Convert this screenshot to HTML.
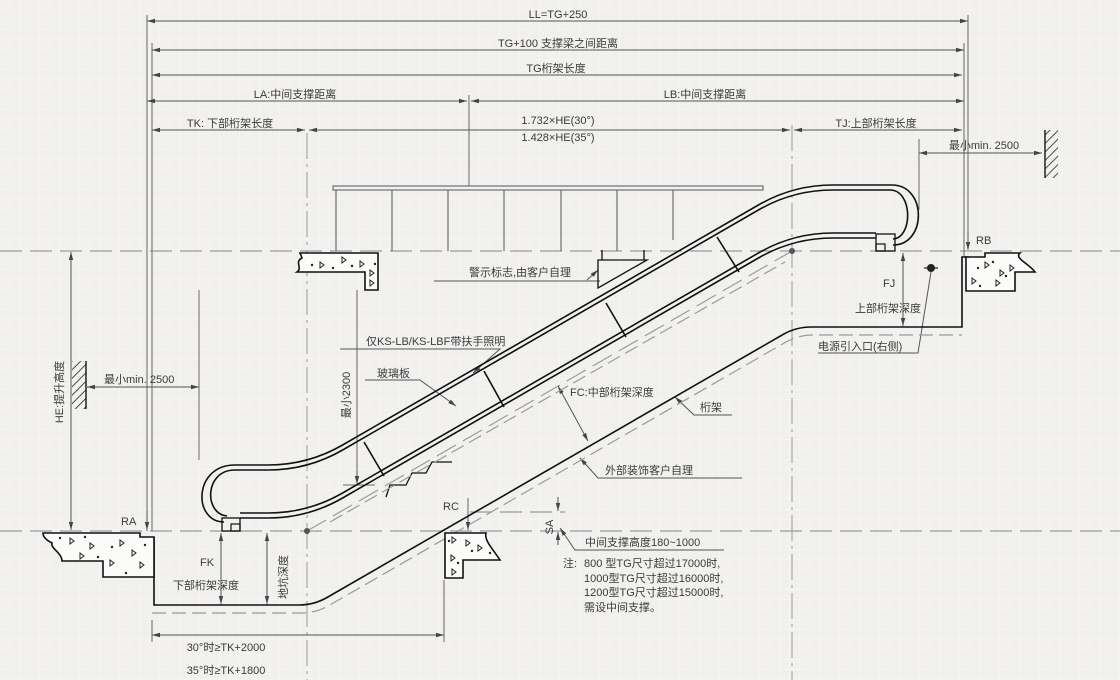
<!DOCTYPE html>
<html><head><meta charset="utf-8"><style>
html,body{margin:0;padding:0;background:#f1f0ee;}
svg{display:block;}
text{font-family:"Liberation Sans","Noto Sans CJK SC",sans-serif;font-size:11px;fill:#3a3a3a;}
</style></head><body>
<svg width="1120" height="680" viewBox="0 0 1120 680" xmlns="http://www.w3.org/2000/svg">
<defs>
<pattern id="g" width="10" height="10" patternUnits="userSpaceOnUse"><path d="M10 0V10H0" fill="none" stroke="#f7f7f6" stroke-width="1"/></pattern>
<pattern id="h" width="6" height="6" patternUnits="userSpaceOnUse" patternTransform="rotate(45)"><line x1="0" y1="0" x2="0" y2="6" stroke="#222" stroke-width="1.6"/></pattern>
<marker id="a" markerWidth="8" markerHeight="6" refX="8" refY="3" orient="auto" markerUnits="userSpaceOnUse"><path d="M0,0.8 L8,3 L0,5.2Z" fill="#444"/></marker>
<marker id="s" markerWidth="8" markerHeight="6" refX="0" refY="3" orient="auto" markerUnits="userSpaceOnUse"><path d="M8,0.8 L0,3 L8,5.2Z" fill="#444"/></marker>
</defs>
<rect width="1120" height="680" fill="url(#g)"/>

<!-- dashed reference lines -->
<g stroke="#9a9a9a" stroke-width="1.2" stroke-dasharray="22,8" fill="none">
<line x1="0" y1="251" x2="1120" y2="251"/>
<line x1="0" y1="531" x2="1120" y2="531"/>
<line x1="307" y1="531" x2="792" y2="251"/>
<line x1="470" y1="512" x2="565" y2="512"/>
</g>
<g stroke="#9a9a9a" stroke-width="1" stroke-dasharray="26,5,3,5" fill="none">
<line x1="307" y1="133" x2="307" y2="680"/>
<line x1="792" y1="125" x2="792" y2="680"/>
</g>
<circle cx="307" cy="531" r="3" fill="#555"/>
<circle cx="792" cy="251" r="3" fill="#555"/>

<!-- extension lines -->
<g stroke="#666" stroke-width="1" fill="none">
<line x1="147" y1="15" x2="147" y2="531"/>
<line x1="152" y1="43" x2="152" y2="531"/>
<line x1="968" y1="15" x2="968" y2="250"/>
<line x1="964" y1="43" x2="964" y2="257"/>
<line x1="469" y1="95" x2="469" y2="186"/>
<line x1="919" y1="139" x2="919" y2="210"/>
<line x1="199" y1="290" x2="199" y2="460"/>
<line x1="357" y1="290" x2="357" y2="485"/>
<line x1="343" y1="485" x2="375" y2="485"/>
<line x1="152" y1="620" x2="152" y2="642"/>
<line x1="444" y1="580" x2="444" y2="642"/>
<line x1="468" y1="498" x2="468" y2="512"/>
</g>

<!-- dimension lines -->
<g stroke="#555" stroke-width="1" fill="none" marker-end="url(#a)" marker-start="url(#s)">
<line x1="147" y1="21" x2="968" y2="21"/>
<line x1="152" y1="50" x2="964" y2="50"/>
<line x1="152" y1="75" x2="962" y2="75"/>
<line x1="147" y1="101" x2="467" y2="101"/>
<line x1="471" y1="101" x2="964" y2="101"/>
<line x1="152" y1="130" x2="305" y2="130"/>
<line x1="309" y1="130" x2="790" y2="130"/>
<line x1="794" y1="130" x2="962" y2="130"/>
<line x1="919" y1="153" x2="1042" y2="153"/>
<line x1="71" y1="252" x2="71" y2="530"/>
<line x1="87" y1="387" x2="199" y2="387"/>
<line x1="221" y1="533" x2="221" y2="604"/>
<line x1="267" y1="533" x2="267" y2="604"/>
<line x1="903" y1="253" x2="903" y2="326"/>
<line x1="152" y1="635" x2="444" y2="635"/>
<line x1="558" y1="386" x2="588" y2="441"/>
</g>
<g stroke="#555" stroke-width="1" fill="none" marker-end="url(#a)">
<line x1="147" y1="510" x2="147" y2="530"/>
<line x1="968" y1="232" x2="968" y2="250"/>
<line x1="468" y1="512" x2="468" y2="530"/>
<line x1="357" y1="470" x2="357" y2="484"/>
<line x1="558" y1="497" x2="558" y2="511"/>
<line x1="558" y1="545" x2="558" y2="532"/>
</g>

<!-- leaders -->
<g stroke="#555" stroke-width="1" fill="none">
<polyline points="434,281 600,281"/>
<polyline points="340,349 500,349 473,373" marker-end="url(#a)"/>
<polyline points="365,380 420,380 456,406" marker-end="url(#a)"/>
<polyline points="732,415 694,415 675,397" marker-end="url(#a)"/>
<polyline points="742,478 598,478 580,458" marker-end="url(#a)"/>
<polyline points="724,550 575,550 560,528" marker-end="url(#a)"/>
<polyline points="818,353 918,353 931,272"/>
<polyline points="587,280 598,270" marker-end="url(#a)"/>
</g>

<!-- handrail balustrade bar & posts -->
<g stroke="#555" stroke-width="1" fill="none">
<rect x="333" y="186" width="430" height="4" fill="#f1f0ee"/>
<line x1="336" y1="190" x2="336" y2="251"/>
<line x1="392" y1="190" x2="392" y2="251"/>
<line x1="448" y1="190" x2="448" y2="251"/>
<line x1="504" y1="190" x2="504" y2="251"/>
<line x1="561" y1="190" x2="561" y2="251"/>
<line x1="617" y1="190" x2="617" y2="251"/>
<line x1="673" y1="190" x2="673" y2="240"/>
</g>

<!-- escalator -->
<g stroke="#111" stroke-width="1.6" fill="none">
<path d="M224,522 C193,522 193,465 235,465 L268,465 Q308,465 342.6,445 L758.4,205 Q793,185 833,185 L892,185 C927,185 927,245 893,245"/>
<path d="M227,516 C204,514 204,470 235,470 L268,470 Q308,470 342.6,450 L758.4,210 Q793,190 833,190 L890,190 C913,190 913,238 893,239"/>
<path d="M240,513 L268,513 Q308,513 342.6,493 L758.4,253 Q793,233 833,233 L876,233"/>
<path d="M240,518 L268,518 Q308,518 342.6,498 L758.4,258 Q793,238 833,238 L876,238"/>
<rect x="222" y="518" width="18" height="13" stroke-width="1.3"/>
<rect x="231" y="524" width="9" height="7" stroke-width="1.2"/>
<rect x="876" y="234" width="19" height="17" stroke-width="1.3"/>
<rect x="876" y="244" width="9" height="7" stroke-width="1.2"/>
<line x1="364" y1="442" x2="384" y2="476"/>
<line x1="484" y1="371" x2="504" y2="407"/>
<line x1="606" y1="303" x2="626" y2="337"/>
<line x1="717" y1="237" x2="739" y2="272"/>
<path d="M154,537 L154,605 L299,605 Q314,605 327,597.5 L783,334.5 Q796,327 811,327 L962,327 L962,257 L969,257"/>
<path d="M452,462 L432,462 L426,473 L412,473 L406,485 L390,485 L386,497" stroke-width="1.3"/>
<path d="M598,260 L647,260 L598,288 Z M602,250 L602,260 M644,250 L644,260" stroke-width="1.3"/>
</g>
<g stroke="#9a9a9a" stroke-width="1.2" stroke-dasharray="14,6" fill="none">
<path d="M152,613 L301,613 Q316,613 329,605.5 L785,342.5 Q798,335 813,335 L962,335"/>
<path d="M330,522 L785,262"/>
</g>

<!-- power symbol -->
<circle cx="931" cy="268" r="4" fill="#222"/>
<line x1="924" y1="268" x2="938" y2="268" stroke="#222" stroke-width="1.2"/>

<!-- slabs -->
<g stroke="#111" stroke-width="1.6" fill="#fbfbfa">
<path d="M300,253 L378,253 L378,290 L365,290 L365,272 L297,272 C303,268 294,262 302,258 Z"/>
<path d="M966,257 L985,257 L985,253 L1020,253 C1014,258 1028,263 1035,272 L1015,272 L1015,291 L966,291 Z"/>
<path d="M43,533 L140,533 L140,537 L154,537 L154,577 L103,577 L103,561 L62,561 C62,553 50,548 52,543 C46,540 43,537 43,533 Z"/>
<path d="M445,533 L486,533 C484,540 492,548 500,560 L463,560 L463,578 L445,578 Z"/>
</g>
<g fill="none" stroke="#222" stroke-width="1">
<path d="M320,262 l4,3 -4,3z M342,257 l4,3 -4,3z M360,261 l4,3 -4,3z M370,270 l4,3 -4,3z M370,280 l4,3 -4,3z"/>
<path d="M985,262 l4,3 -4,3z M1000,270 l4,3 -4,3z M996,280 l4,3 -4,3z M1010,265 l4,3 -4,3z M972,278 l4,3 -4,3z"/>
<path d="M70,538 l4,3 -4,3z M90,543 l4,3 -4,3z M120,540 l4,3 -4,3z M132,550 l4,3 -4,3z M110,560 l4,3 -4,3z M140,562 l4,3 -4,3z M80,553 l4,3 -4,3z"/>
<path d="M452,537 l4,3 -4,3z M466,540 l4,3 -4,3z M478,545 l4,3 -4,3z M451,555 l4,3 -4,3z M452,569 l4,3 -4,3z"/>
</g>
<g fill="#222">
<circle cx="312" cy="265" r="1.2"/><circle cx="333" cy="268" r="1.2"/><circle cx="352" cy="266" r="1.2"/><circle cx="375" cy="264" r="1.2"/>
<circle cx="978" cy="268" r="1.2"/><circle cx="993" cy="262" r="1.2"/><circle cx="1006" cy="276" r="1.2"/><circle cx="980" cy="286" r="1.2"/>
<circle cx="60" cy="538" r="1.2"/><circle cx="85" cy="537" r="1.2"/><circle cx="112" cy="547" r="1.2"/><circle cx="98" cy="557" r="1.2"/><circle cx="145" cy="545" r="1.2"/><circle cx="126" cy="573" r="1.2"/>
<circle cx="449" cy="541" r="1.2"/><circle cx="472" cy="551" r="1.2"/><circle cx="490" cy="553" r="1.2"/><circle cx="458" cy="563" r="1.2"/>
</g>

<!-- walls -->
<rect x="1045" y="130" width="13" height="48" fill="url(#h)"/>
<line x1="1045" y1="130" x2="1045" y2="178" stroke="#222" stroke-width="1.5"/>
<rect x="72" y="361" width="14" height="48" fill="url(#h)"/>
<line x1="86" y1="361" x2="86" y2="409" stroke="#222" stroke-width="1.5"/>

<!-- text -->
<text x="558" y="18" text-anchor="middle">LL=TG+250</text>
<text x="558" y="47" text-anchor="middle">TG+100 支撑梁之间距离</text>
<text x="556" y="72" text-anchor="middle">TG桁架长度</text>
<text x="295" y="98" text-anchor="middle">LA:中间支撑距离</text>
<text x="705" y="98" text-anchor="middle">LB:中间支撑距离</text>
<text x="230" y="127" text-anchor="middle">TK: 下部桁架长度</text>
<text x="558" y="124" text-anchor="middle">1.732×HE(30°)</text>
<text x="558" y="141" text-anchor="middle">1.428×HE(35°)</text>
<text x="876" y="127" text-anchor="middle">TJ:上部桁架长度</text>
<text x="984" y="149" text-anchor="middle">最小min. 2500</text>
<text x="976" y="244">RB</text>
<text x="469" y="276">警示标志,由客户自理</text>
<text x="883" y="287">FJ</text>
<text x="855" y="312">上部桁架深度</text>
<text x="818" y="350">电源引入口(右侧)</text>
<text x="366" y="345">仅KS-LB/KS-LBF带扶手照明</text>
<text x="377" y="377">玻璃板</text>
<text x="570" y="396">FC:中部桁架深度</text>
<text x="700" y="411">桁架</text>
<text x="605" y="474">外部装饰客户自理</text>
<text x="104" y="383">最小min. 2500</text>
<text transform="translate(63,392) rotate(-90)" text-anchor="middle">HE:提升高度</text>
<text transform="translate(350,395) rotate(-90)" text-anchor="middle">最小2300</text>
<text x="121" y="525">RA</text>
<text x="443" y="510">RC</text>
<text transform="translate(553,527) rotate(-90)" text-anchor="middle">SA</text>
<text x="200" y="566">FK</text>
<text x="173" y="589">下部桁架深度</text>
<text transform="translate(287,577) rotate(-90)" text-anchor="middle">地坑深度</text>
<text x="585" y="546">中间支撑高度180~1000</text>
<text x="563" y="567">注:</text>
<text x="584" y="567">800 型TG尺寸超过17000时,</text>
<text x="584" y="582">1000型TG尺寸超过16000时,</text>
<text x="584" y="596">1200型TG尺寸超过15000时,</text>
<text x="584" y="611">需设中间支撑。</text>
<text x="226" y="651" text-anchor="middle">30°时≥TK+2000</text>
<text x="226" y="674" text-anchor="middle">35°时≥TK+1800</text>
</svg>
</body></html>
